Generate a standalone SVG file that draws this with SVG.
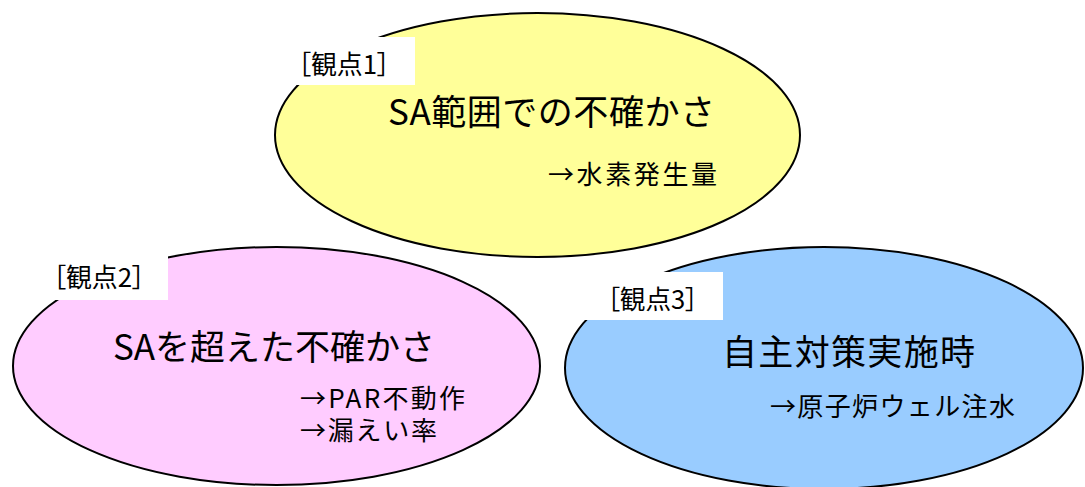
<svg xmlns="http://www.w3.org/2000/svg" width="1085" height="487" viewBox="0 0 1085 487">
<style>
.ell{stroke:#000;stroke-width:2}
.lbl{fill:#fff}
text{font-family:"Noto Sans CJK JP","Noto Sans",sans-serif;fill:#000}
.t{font-size:35px}
.s{font-size:26px}
.l{font-size:26px;font-feature-settings:"palt"}
</style>
<rect width="1085" height="487" fill="#fff"/>
<g id="node1">
<ellipse class="ell" cx="537.5" cy="135" rx="262.5" ry="122" fill="#FFFF99"/>
<rect class="lbl" x="283" y="37" width="132" height="48"/>
<text class="l" x="298" y="74" textLength="92" lengthAdjust="spacingAndGlyphs">［観点1］</text>
<text class="t" x="388" y="125" textLength="327" lengthAdjust="spacing">SA範囲での不確かさ</text>
<text class="s" x="548" y="184" textLength="169" lengthAdjust="spacing">→水素発生量</text>
</g>
<g id="node2">
<ellipse class="ell" cx="276.5" cy="366" rx="263.5" ry="119" fill="#FFCCFF"/>
<rect class="lbl" x="38" y="255" width="130" height="45"/>
<text class="l" x="53" y="287" textLength="92" lengthAdjust="spacingAndGlyphs">［観点2］</text>
<text class="t" x="113" y="360" textLength="322" lengthAdjust="spacing">SAを超えた不確かさ</text>
<text class="s"><tspan x="300" y="408" textLength="165" lengthAdjust="spacing">→PAR不動作</tspan><tspan x="300" y="440" textLength="137" lengthAdjust="spacing">→漏えい率</tspan></text>
</g>
<g id="node3">
<ellipse class="ell" cx="824" cy="368" rx="259" ry="121" fill="#99CCFF"/>
<rect class="lbl" x="583" y="272" width="140" height="48"/>
<text class="l" x="607" y="309" textLength="91" lengthAdjust="spacingAndGlyphs">［観点3］</text>
<text class="t" x="722" y="365" textLength="253" lengthAdjust="spacing">自主対策実施時</text>
<text class="s" x="770" y="416" textLength="245" lengthAdjust="spacing">→原子炉ウェル注水</text>
</g>
<g id="connectors"></g>
</svg>
